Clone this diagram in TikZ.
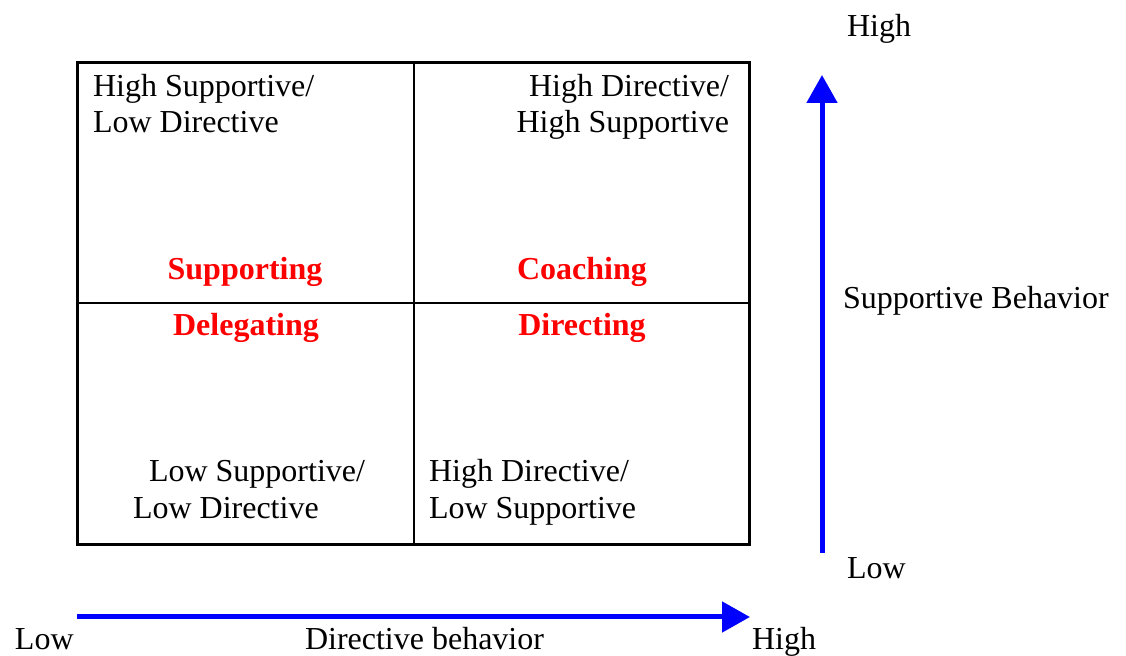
\documentclass[tikz,border=0pt]{standalone}
\usepackage{fontspec}
\setmainfont{Liberation Serif}
\usetikzlibrary{arrows.meta}
\definecolor{cred}{RGB}{255, 0, 0}
\definecolor{cblue}{RGB}{0, 0, 255}

\begin{document}
\begin{tikzpicture}[x=0.5pt,y=-0.5pt,font=\fontsize{16}{18.5}\selectfont,
    axis/.style={draw=cblue,line width=2.5pt,-{Triangle[length=14pt,width=15pt]}},
    txt/.style={inner sep=0pt,outer sep=0pt},
    style/.style={txt,anchor=base,text=cred,font=\fontsize{16}{18.5}\selectfont\bfseries}]
\useasboundingbox (0,0) rectangle (1126,656);

% the four quadrants
\draw[line width=1.5pt] (77,63) rectangle (749,545);
\draw[line width=1pt] (414,63) -- (414,545);
\draw[line width=1pt] (77,303) -- (749,303);

\foreach \name/\x/\y/\anc/\txt in {
	hs1/93/97/west/{High Supportive/},
	hs2/93/133/west/{Low Directive},
	hd1/729/97/east/{High Directive/},
	hd2/729/133/east/{High Supportive},
	ls1/149/482/west/{Low Supportive/},
	ls2/133/519/west/{Low Directive},
	ld1/429/482/west/{High Directive/},
	ld2/429/519/west/{Low Supportive}
}{
    \node[txt,anchor=base \anc] (\name) at (\x,\y) {\txt};
}

\node[style] (supp) at (245,280) {Supporting};
\node[style] (coach) at (582,280) {Coaching};
\node[style] (deleg) at (246,336) {Delegating};
\node[style] (direc) at (582,336) {Directing};

% axes
\coordinate (xlo) at (77,617);
\coordinate (xhi) at (750,617);
\coordinate (ylo) at (822,553);
\coordinate (yhi) at (822,75);
\draw[axis] (xlo) -- (xhi);
\draw[axis] (ylo) -- (yhi);

\node[txt,anchor=base west] (xlow) at (15,650) {Low};
\node[txt,anchor=base west] (xlab) at (305,650) {Directive behavior};
\node[txt,anchor=base west] (xhigh) at (752,650) {High};
\node[txt,anchor=base west] (yhigh) at (847,37) {High};
\node[txt,anchor=base west] (ylab) at (843,309) {Supportive Behavior};
\node[txt,anchor=base west] (ylow) at (847,579) {Low};

\end{tikzpicture}
\end{document}
